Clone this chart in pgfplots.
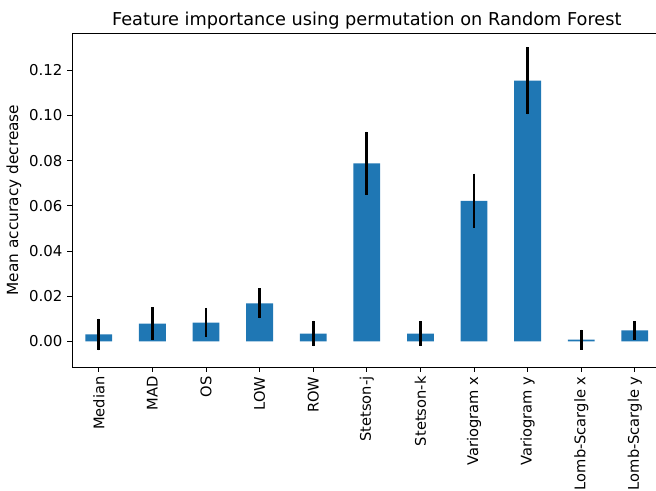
\documentclass[border=0pt]{standalone}
\usepackage{fontspec}
\setmainfont{DejaVu Sans}
\usepackage{pgfplots}
\usepackage{pgfplotstable}
\pgfplotsset{compat=1.18}
\definecolor{tabblue}{HTML}{1F77B4}
\pgfplotstableread{
x y e
0 0.0030 0.0070
1 0.0078 0.0072
2 0.0083 0.0065
3 0.0168 0.0067
4 0.0034 0.0057
5 0.0788 0.0140
6 0.0034 0.0056
7 0.0622 0.0120
8 0.1154 0.0149
9 0.0007 0.0045
10 0.0048 0.0041
}\imp
\begin{document}
\begin{tikzpicture}
\begin{axis}[
  at={(0,0)}, anchor=south west,
  scale only axis,
  width=442.2pt, height=250.5pt,
  xmin=-0.5, xmax=10.5,
  ymin=-0.0114, ymax=0.1365,
  xtick=data,
  xticklabels={Median,MAD,OS,LOW,ROW,Stetson-j,Stetson-k,Variogram x,Variogram y,Lomb-Scargle x,Lomb-Scargle y},
  x tick label style={rotate=90, anchor=east, font=\fontsize{11}{13}\selectfont},
  ytick={0,0.02,0.04,0.06,0.08,0.10,0.12},
  y tick label style={font=\fontsize{11.2}{13}\selectfont,
    /pgf/number format/fixed, /pgf/number format/fixed zerofill,
    /pgf/number format/precision=2, /pgf/number format/assume math mode=true},
  scaled y ticks=false,
  tick align=outside,
  major tick length=3.6pt,
  tick style={black, line width=0.6pt},
  xtick pos=bottom, ytick pos=left,
  axis line style={black, line width=0.6pt},
  ylabel={Mean accuracy decrease},
  ylabel style={font=\fontsize{11.5}{13}\selectfont, at={(axis description cs:-0.0984,0.5)}, anchor=center},
  title={Feature importance using permutation on Random Forest},
  title style={font=\fontsize{13.3}{15}\selectfont, yshift=-6.5pt},
  enlargelimits=false,
]
\addplot[ybar, bar width=0.5, fill=tabblue, draw=none,
  error bars/.cd, y dir=both, y explicit,
  error mark=none,
  error bar style={black, line width=2.1pt}]
  table[x=x, y=y, y error=e] {\imp};
\end{axis}
\pgfresetboundingbox
\path[use as bounding box] (-54pt,-93pt) rectangle (438pt,275.25pt);
\end{tikzpicture}
\end{document}
